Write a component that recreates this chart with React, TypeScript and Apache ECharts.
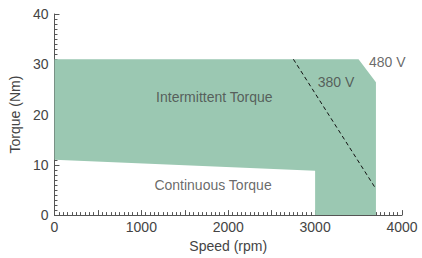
import React, { useEffect, useRef } from "react";
import * as echarts from "echarts";

const xTicks = [0, 1000, 2000, 3000, 4000];
const yTicks = [0, 10, 20, 30, 40];
// Operating envelope (speed rpm, torque Nm)
const envelope480: [number, number][] = [
  [0, 31], [3500, 31], [3700, 26.4], [3700, 0], [3000, 0], [3000, 8.8], [0, 11],
];
const line380: [number, number][] = [[2750, 31], [3700, 5.2]];
const annotations: [number, number, string][] = [
  [1840, 23.5, "Intermittent Torque"],
  [1825, 5.9, "Continuous Torque"],
  [3240, 26.5, "380 V"],
  [3830, 30.5, "480 V"],
];

const FONT = "Liberation Sans";
const FS = 14;
const TXT = "#444";

export default function App() {
  const ref = useRef<HTMLDivElement>(null);
  useEffect(() => {
    const chart = echarts.init(ref.current!, null, { renderer: "svg" });
    const axisColor = "#555";
    const nameStyle = { fontSize: FS, color: TXT, fontFamily: FONT, fontWeight: 400 };
    chart.setOption({
      animation: false,
      textStyle: { fontFamily: FONT, fontWeight: 400 },
      grid: { left: 50, right: 20, top: 14, bottom: 40 },
      xAxis: {
        type: "value",
        min: xTicks[0],
        max: xTicks[xTicks.length - 1],
        interval: 500,
        name: "Speed (rpm)",
        nameLocation: "middle",
        nameGap: 17,
        nameTextStyle: nameStyle,
        axisLine: { lineStyle: { color: axisColor, width: 1 } },
        axisTick: { inside: true, length: 5, lineStyle: { color: axisColor } },
        minorTick: { show: true, splitNumber: 10, length: 3, lineStyle: { color: axisColor } },
        splitLine: { show: false },
        axisLabel: {
          fontSize: FS,
          color: TXT,
          margin: 5,
          fontFamily: FONT,
          formatter: (v: number) => (xTicks.includes(v) ? String(v) : ""),
        },
      },
      yAxis: {
        type: "value",
        min: yTicks[0],
        max: yTicks[yTicks.length - 1],
        interval: 10,
        name: "Torque (Nm)",
        nameLocation: "middle",
        nameGap: 32,
        nameTextStyle: nameStyle,
        axisLine: { show: true, lineStyle: { color: axisColor, width: 1 } },
        axisTick: { show: true, inside: true, length: 5, lineStyle: { color: axisColor } },
        minorTick: { show: true, splitNumber: 10, length: 3, lineStyle: { color: axisColor } },
        splitLine: { show: false },
        axisLabel: { fontSize: FS, color: TXT, margin: 6, fontFamily: FONT },
      },
      series: [
        {
          type: "custom",
          data: envelope480,
          renderItem: (params: any, api: any) => {
            if (params.dataIndex !== 0) return null;
            const pts = envelope480.map((p) => api.coord(p));
            return {
              type: "polygon",
              shape: { points: pts },
              style: { fill: "#9bc8b2", stroke: "none" },
            };
          },
          z: 1,
        },
        {
          type: "line",
          data: line380,
          symbol: "none",
          lineStyle: { color: "#111", width: 1, type: [4, 3] },
          z: 3,
        },
        {
          type: "scatter",
          data: annotations.map((a) => [a[0], a[1], a[2]]),
          symbolSize: 0,
          label: {
            show: true,
            position: "inside",
            formatter: (p: any) => p.data[2],
            fontSize: FS,
            color: TXT,
            fontFamily: FONT,
          },
          z: 4,
        },
      ],
    });
    return () => chart.dispose();
  }, []);
  return (
    <div
      ref={ref}
      style={{ position: "fixed", left: 0, top: 0, width: 422, height: 258, background: "#fff" }}
    />
  );
}
